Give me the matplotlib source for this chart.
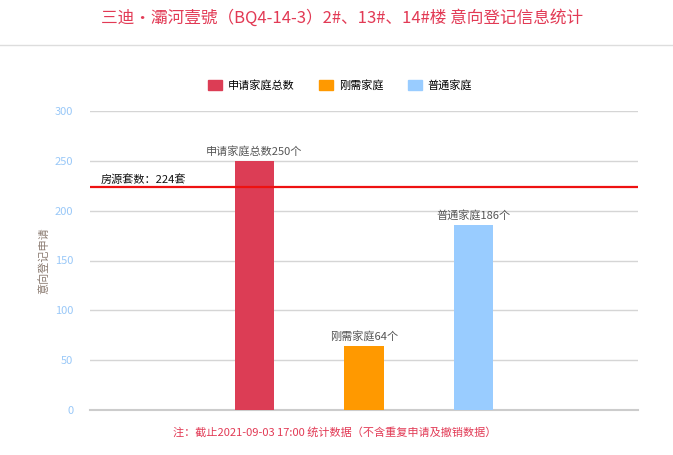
import matplotlib.pyplot as plt
from matplotlib import patches
from matplotlib.lines import Line2D

plt.rcParams['font.family'] = ['Noto Sans CJK SC', 'DejaVu Sans']

# data
categories = ["申请家庭总数", "刚需家庭", "普通家庭"]
values = [250, 64, 186]
colors = ["#DC3D55", "#FF9900", "#99CCFF"]
label_units = "个"
supply = 224
supply_label = "房源套数：224套"
y_ticks = [0, 50, 100, 150, 200, 250, 300]

W, H = 673, 455
fig = plt.figure(figsize=(W / 100, H / 100), dpi=100)
ax = fig.add_axes([90 / W, (H - 410) / H, (638 - 90) / W, (410 - 111) / H])

x = list(range(len(categories)))
ax.bar(x, values, width=0.36, color=colors, zorder=3)
for xi, v, c in zip(x, values, categories):
    ax.text(xi, v + 4, f"{c}{v}{label_units}", ha='center', va='bottom',
            fontsize=8, color="#555555", zorder=4)

ax.axhline(supply, color="#EE1111", lw=1.6, zorder=4)
ax.text(-1.4, supply + 2, supply_label, ha='left', va='bottom', fontsize=8,
        color="#111111", zorder=4)

ax.set_xlim(-1.5, 3.5)
ax.set_ylim(0, 300)
ax.set_yticks(y_ticks)
ax.set_xticks([])
ax.tick_params(axis='y', length=0, labelsize=8, labelcolor="#99C8F8", pad=12)
ax.grid(axis='y', color="#D5D5D5", lw=1, zorder=0)
for s in ["top", "right", "left"]:
    ax.spines[s].set_visible(False)
ax.spines["bottom"].set_color("#CCCCCC")
ax.spines["bottom"].set_linewidth(1.5)
ax.set_ylabel("意向登记申请", fontsize=8, color="#8A7A70", labelpad=4)

# title and separator
fig.text(342 / W, 1 - 18 / H, "三迪·灞河壹號（BQ4-14-3）2#、13#、14#楼 意向登记信息统计",
         ha='center', va='center', fontsize=12, color="#E23A55")
fig.add_artist(Line2D([0, 1], [1 - 45 / H, 1 - 45 / H], color="#DDDDDD", lw=1,
                      transform=fig.transFigure))

# legend
handles = [patches.Patch(color=c, label=l) for c, l in zip(colors, categories)]
fig.legend(handles=handles, loc='center', bbox_to_anchor=(340 / W, 1 - 85 / H),
           ncol=3, frameon=False, fontsize=8, handlelength=1.3, handleheight=1.0,
           columnspacing=2.2, handletextpad=0.5)

# footnote
fig.text(335 / W, 1 - 432 / H, "注：截止2021-09-03 17:00 统计数据（不含重复申请及撤销数据）",
         ha='center', va='center', fontsize=8, color="#E23A55")

fig.savefig("out.png", dpi=100)
